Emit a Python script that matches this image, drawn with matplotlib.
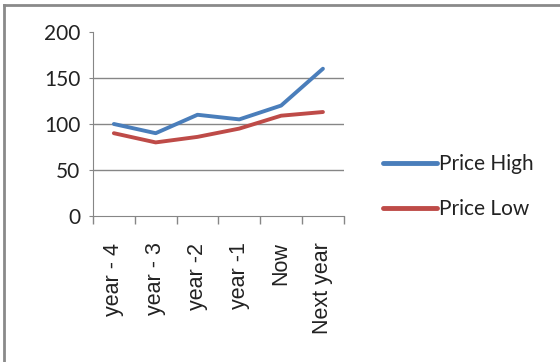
import matplotlib.pyplot as plt
from matplotlib.lines import Line2D
import numpy as np

# Preisentwicklung: Jahre und Hoch-/Tiefwerte
categories = ['year - 4', 'year - 3', 'year -2', 'year -1', 'Now', 'Next year']
price_high = [100, 90, 110, 105, 120, 160]
price_low = [90, 80, 86, 95, 109, 113]

blue = '#4a7ebb'
red = '#be4b48'
grey = '#868686'

fig = plt.figure(figsize=(5.6, 3.62), dpi=100)
ax = fig.add_axes([0.166, 0.403, 0.448, 0.509])

x = np.arange(len(categories))
ax.plot(x, price_high, color=blue, lw=2.8, solid_capstyle='round', label='Price High')
ax.plot(x, price_low, color=red, lw=2.8, solid_capstyle='round', label='Price Low')

ax.set_xlim(-0.5, len(categories) - 0.5)
ax.set_ylim(0, 200)
ax.set_yticks([0, 50, 100, 150, 200])
ax.set_xticks(x)
ax.set_xticklabels(categories, rotation=90, family='Liberation Sans', fontsize=15.5)
ax.set_xticks(np.arange(-0.5, len(categories)), minor=True)
ax.tick_params(axis='x', which='major', length=0, pad=19)
ax.tick_params(axis='x', which='minor', length=6, color=grey, width=1)
ax.tick_params(axis='y', length=3, color=grey, labelsize=15, pad=6)
for lab in ax.get_yticklabels():
    lab.set_family('Lato')
    lab.set_color('#222222')
for lab in ax.get_xticklabels():
    lab.set_color('#222222')

for y in [50, 100, 150]:
    ax.axhline(y, color=grey, lw=1, zorder=0)

for s in ['top', 'right']:
    ax.spines[s].set_visible(False)
ax.spines['left'].set_color(grey)
ax.spines['bottom'].set_color(grey)

leg = fig.legend(handles=[Line2D([], [], color=blue, lw=3.5, solid_capstyle='round'),
                          Line2D([], [], color=red, lw=3.5, solid_capstyle='round')],
                 labels=['Price High', 'Price Low'], loc='center left',
                 bbox_to_anchor=(0.65, 0.485), frameon=False, handlelength=2.6,
                 handletextpad=0.1, labelspacing=1.2,
                 prop={'family': 'Lato', 'size': 15})
for t in leg.get_texts():
    t.set_color('#222222')

# Rahmen oben und links
fig.add_artist(Line2D([0.007, 1], [0.987, 0.987], transform=fig.transFigure, color='#8a8a8a', lw=2))
fig.add_artist(Line2D([0.007, 0.007], [0, 0.987], transform=fig.transFigure, color='#8a8a8a', lw=2))

fig.savefig('out.png', dpi=100)
